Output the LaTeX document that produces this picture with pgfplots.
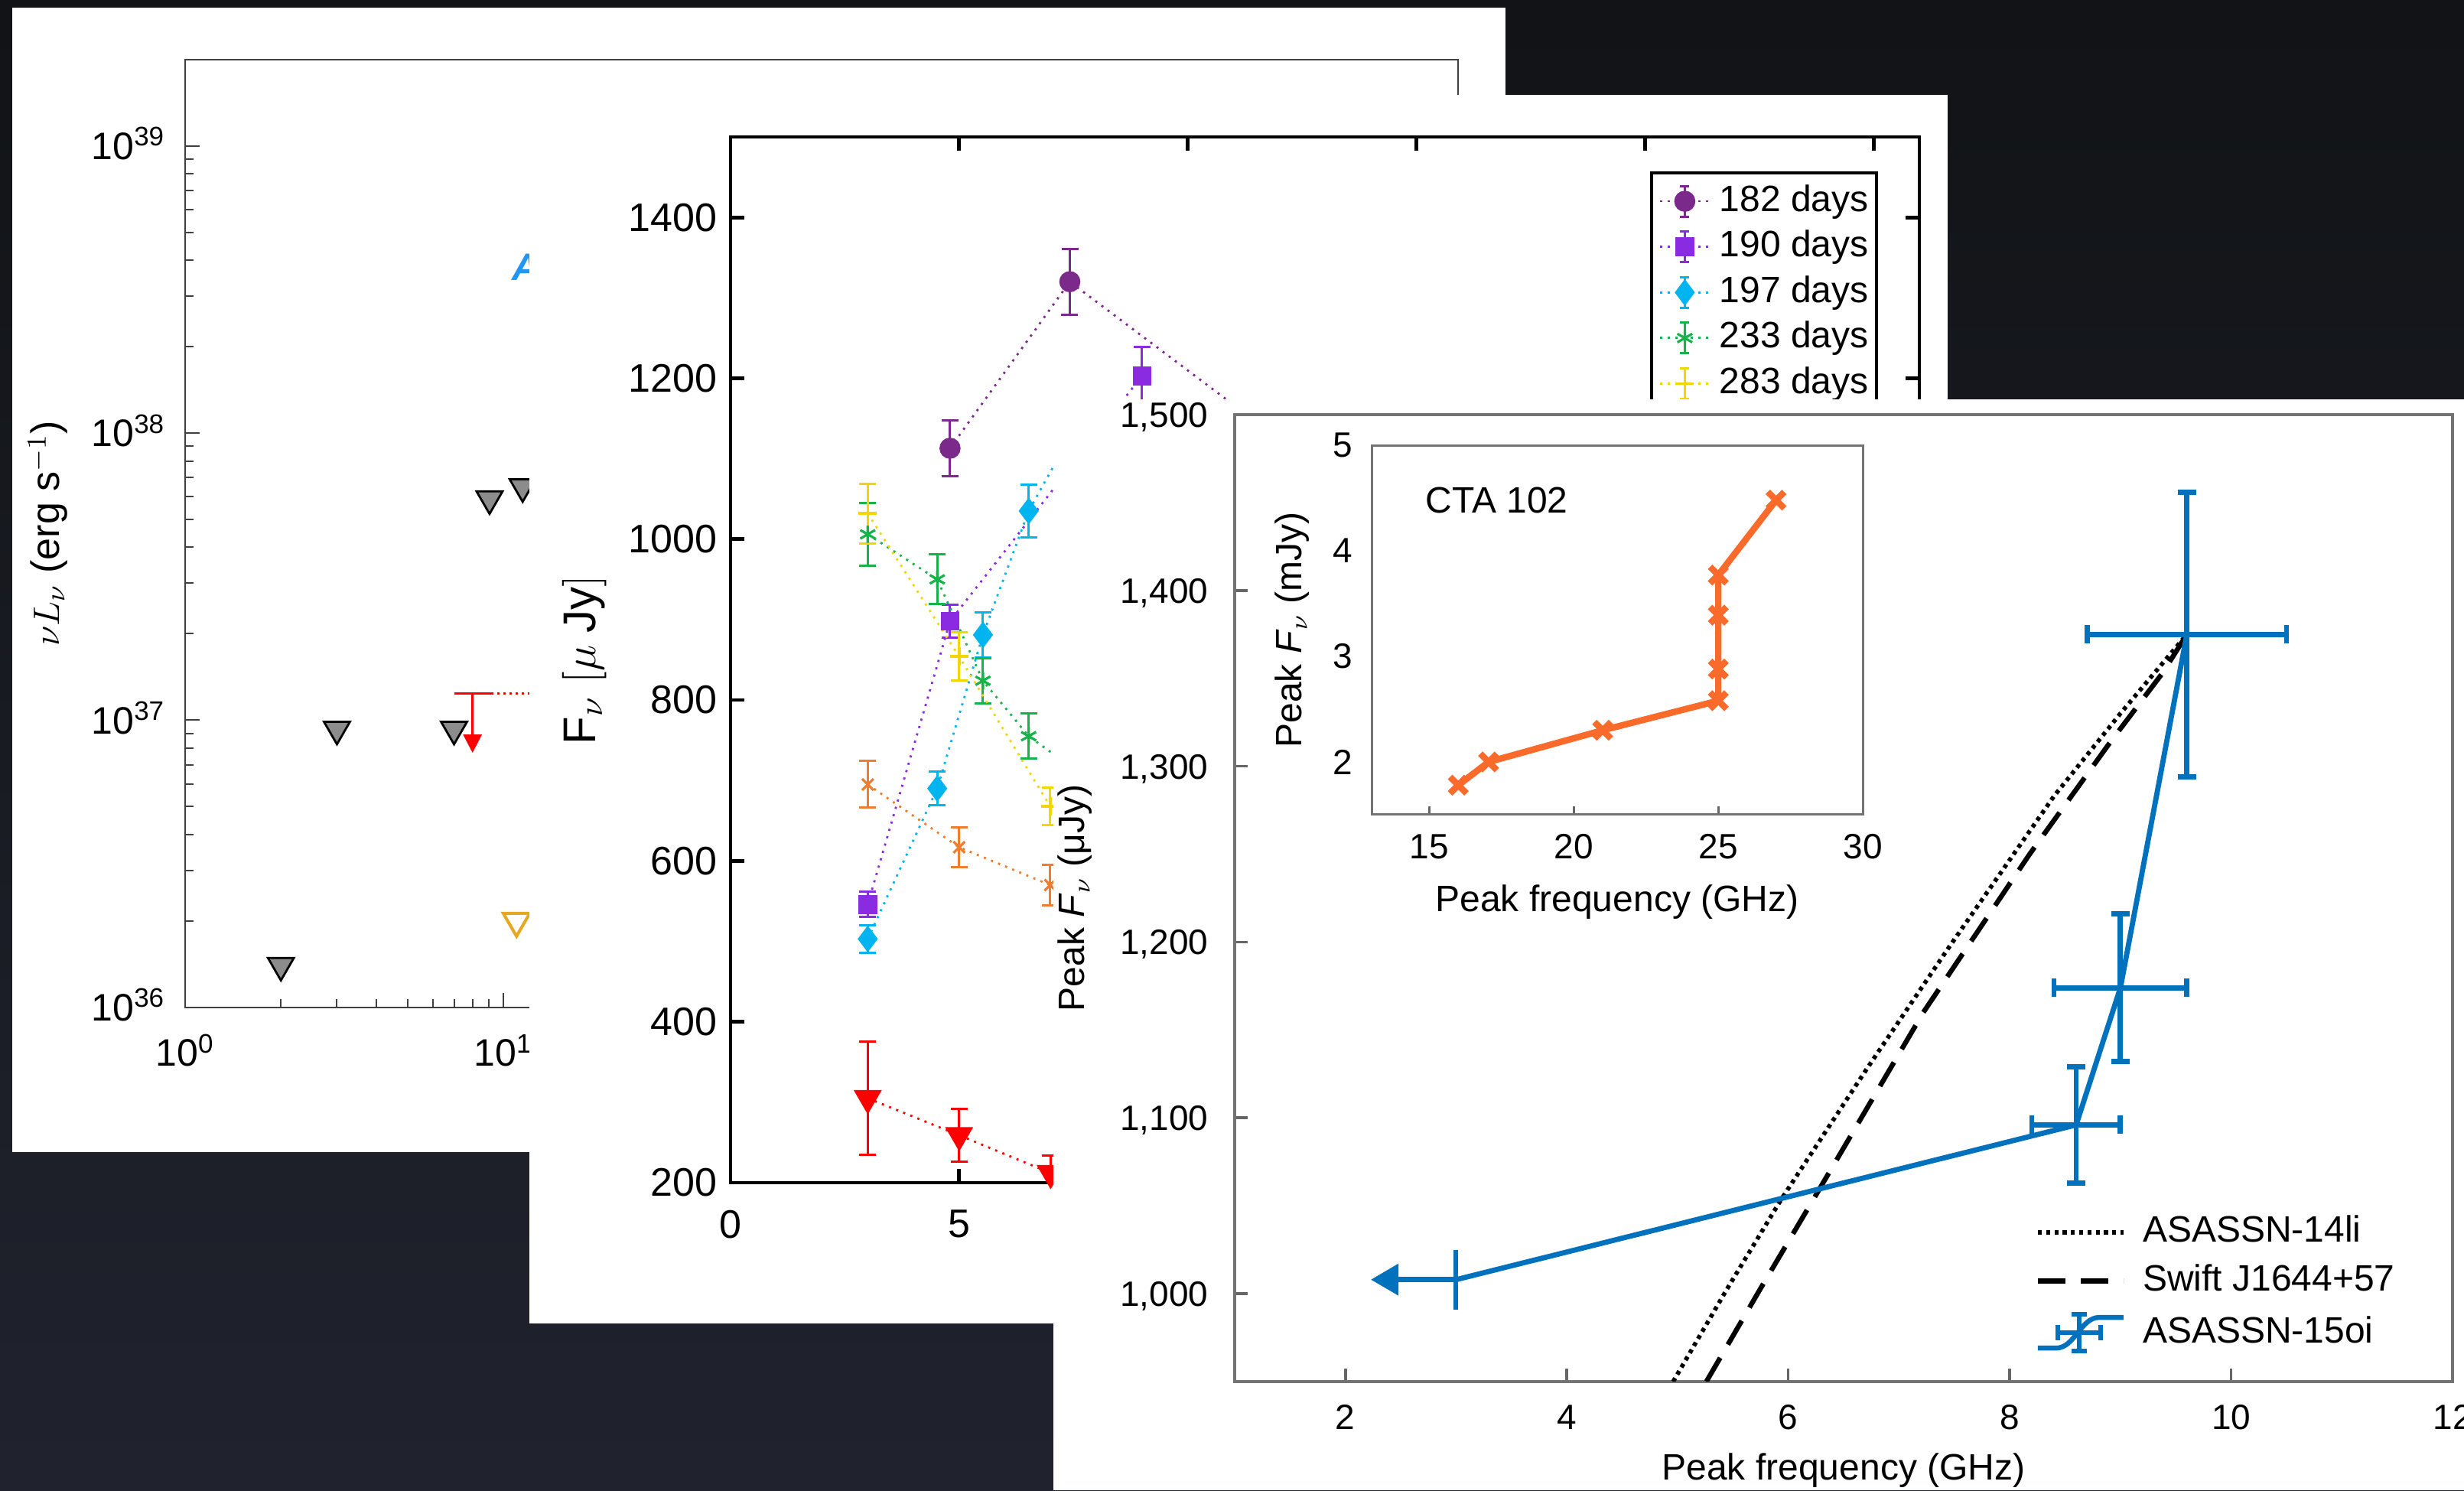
\documentclass[border=0pt]{standalone}
\usepackage{fontspec}
\setmainfont{Liberation Sans}
\usepackage{pgfplots}
\pgfplotsset{compat=1.18}
\usetikzlibrary{arrows.meta}
\newcommand{\fs}[1]{\fontsize{#1}{#1}\selectfont}
\definecolor{bgtop}{HTML}{111316}
\definecolor{bgbot}{HTML}{20232E}
\definecolor{c182}{HTML}{7B2A8C}
\definecolor{c190}{HTML}{8A2BE2}
\definecolor{c197}{HTML}{00B4F0}
\definecolor{c233}{HTML}{16B34A}
\definecolor{c283}{HTML}{F2D600}
\definecolor{corg}{HTML}{EE7D2F}
\definecolor{cred}{HTML}{FF0000}
\definecolor{mblue}{HTML}{0072BD}
\definecolor{cta}{HTML}{FA6A2A}
\definecolor{gold}{HTML}{E5A823}
\definecolor{ablue}{HTML}{2196F3}
\begin{document}
\begin{tikzpicture}[x=1pt,y=1pt]
\path[use as bounding box] (0,0) rectangle (805.25,487);
\shade[top color=bgtop, bottom color=bgbot] (0,0) rectangle (805.25,487);

%================ Panel 1 ================
\fill[white] (4,110.5) rectangle (492,484.5);
\begin{axis}[
  at={(60.5pt,157.75pt)}, anchor=south west, scale only axis,
  width=416pt, height=309.75pt,
  xmode=log, ymode=log, xmin=1, xmax=1e4, ymin=1e36, ymax=2e39,
  axis line style={draw=black!75, line width=0.5pt},
  tick align=inside, tick pos=left,
  major tick length=4.75pt, minor tick length=2.75pt,
  tick style={black!75, line width=0.5pt},
  xtick={1,10,100,1000,10000},
  xticklabels={10\textsuperscript{0},10\textsuperscript{1},10\textsuperscript{2},10\textsuperscript{3},10\textsuperscript{4}},
  ytick={1e36,1e37,1e38,1e39},
  yticklabels={10\textsuperscript{36},10\textsuperscript{37},10\textsuperscript{38},10\textsuperscript{39}},
  ticklabel style={font=\fs{12.5}},
  yticklabel style={anchor=base east, inner sep=0pt, xshift=-6.25pt, yshift=-4.4pt},
  xticklabel style={anchor=base, inner sep=0pt, yshift=-19.25pt},
  ylabel={$\nu L_\nu$ (erg s$^{-1}$)},
  ylabel style={font=\fs{13}, at={(axis description cs:-0.108,0.5)}, anchor=center},
]
\addplot[only marks, mark=triangle*, mark size=4.9pt,
  mark options={rotate=180, fill=gray!90, draw=black, line width=0.7pt}]
  coordinates {(2,1.4e36) (3,9.3e36) (7,9.3e36) (9.05,5.9e37) (11.5,6.5e37)};
\addplot[cred, line width=0.9pt] coordinates {(7.0,1.24e37) (9.15,1.24e37)};
\addplot[cred, line width=0.8pt, dash pattern=on 0.8pt off 1.2pt] coordinates {(9.15,1.24e37) (40,1.24e37)};
\addplot[cred, line width=0.8pt, -{Triangle[length=6pt,width=6pt]}] coordinates {(8,1.24e37) (8,7.7e36)};
\addplot[only marks, mark=triangle, mark size=5pt,
  mark options={rotate=180, draw=gold, line width=1pt}] coordinates {(11,2.0e36)};
\node[anchor=west, inner sep=0pt, text=ablue, font=\fs{12.5}\bfseries\itshape] at (axis cs:10.6,3.8e38) {ASASSN-15oi};
\end{axis}

%================ Panel 2 ================
\fill[white] (173,54.5) rectangle (636.5,456);
\begin{axis}[
  at={(238.75pt,100.5pt)}, anchor=south west, scale only axis,
  width=388.5pt, height=341.75pt,
  xmin=0, xmax=26, ymin=200, ymax=1500,
  xtick={0,5,10,15,20,25}, ytick={200,400,...,1400},
  tick align=inside, major tick length=4.5pt,
  axis line style={line width=1.2pt},
  tick style={black, line width=1.2pt},
  /pgf/number format/1000 sep={}, /pgf/number format/assume math mode=true,
  ticklabel style={font=\fs{13}},
  yticklabel style={inner sep=0pt, xshift=-4.25pt},
  xticklabel style={inner sep=0pt, yshift=-8.75pt},
  ylabel={F$_\nu$ $[\mu$ Jy$]$},
  ylabel style={font=\fs{15}, at={(axis description cs:-0.1229,0.5)}, anchor=center},
  legend cell align=left,
  legend style={at={(axis description cs:0.7735,0.967)}, anchor=north west,
    draw=black, line width=1pt, inner xsep=2.5pt, inner ysep=3.5pt,
    font=\fs{12}, row sep=3.4pt, column sep=3pt,
    nodes={inner sep=0pt, text height=9pt, text depth=2.5pt}},
  legend image code/.code={
    \draw[#1, mark=none] (0pt,0pt) -- (16pt,0pt);
    \draw[#1, solid, mark=none, line width=0.75pt] (8pt,-5pt) -- (8pt,5pt) (6.5pt,-5pt) -- (9.5pt,-5pt) (6.5pt,5pt) -- (9.5pt,5pt);
    \draw[#1, only marks] plot coordinates {(8pt,0pt)};
  },
  every axis plot/.append style={line width=0.7pt, dash pattern=on 0.7pt off 1.8pt},
  error bars/error bar style={solid, line width=0.75pt},
  error bars/error mark options={rotate=90, solid, mark size=2.75pt, line width=0.75pt},
]
\addplot[c182, mark=*, mark size=3.1pt, mark options={solid},
  error bars/.cd, y dir=both, y explicit]
  coordinates {(4.8,1113) +- (0,35) (7.42,1320) +- (0,41) (12.5,1103) +- (0,40)};
\addlegendentry{182 days}
\addplot[c190, mark=square*, mark size=2.75pt, mark options={solid},
  error bars/.cd, y dir=both, y explicit]
  coordinates {(3.0,546) +- (0,16) (4.8,898) +- (0,20) (9.0,1203) +- (0,36)};
\addlegendentry{190 days}
\addplot[c197, mark=diamond*, mark size=3.8pt, mark options={solid},
  error bars/.cd, y dir=both, y explicit]
  coordinates {(3.0,503) +- (0,17) (4.52,690) +- (0,21) (5.52,881) +- (0,28) (6.52,1035) +- (0,33) (7.45,1130) +- (0,30)};
\addlegendentry{197 days}
\addplot[c233, mark=asterisk, mark size=2.8pt, mark options={solid, line width=0.8pt},
  error bars/.cd, y dir=both, y explicit]
  coordinates {(3.0,1006) +- (0,39) (4.52,950) +- (0,31) (5.52,824) +- (0,28) (6.52,755) +- (0,28) (7.45,717) +- (0,25)};
\addlegendentry{233 days}
\addplot[c283, mark=+, mark size=3pt, mark options={solid, line width=0.9pt},
  error bars/.cd, y dir=both, y explicit]
  coordinates {(3.0,1032) +- (0,37) (5.0,854) +- (0,30) (6.99,668) +- (0,23)};
\addlegendentry{283 days}
\addplot[corg, mark=x, mark size=2.6pt, mark options={solid, line width=0.8pt},
  error bars/.cd, y dir=both, y explicit]
  coordinates {(3.0,695) +- (0,29) (5.0,617) +- (0,25) (6.99,570) +- (0,25)};
\addlegendentry{}
\addplot[cred, mark=triangle*, mark size=4.6pt, mark options={solid, rotate=180},
  error bars/.cd, y dir=both, y explicit]
  coordinates {(3.0,305) +- (0,70) (5.0,259) +- (0,33) (7.0,212) +- (0,22)};
\addlegendentry{}
\end{axis}

%================ Panel 3 ================
\fill[white] (344.25,0) rectangle (805.25,356.5);
\begin{axis}[
  at={(403.5pt,35.5pt)}, anchor=south west, scale only axis,
  width=398pt, height=316pt,
  xmin=1, xmax=12, ymin=950, ymax=1500,
  xtick={2,4,...,12}, ytick={1000,1100,...,1500},
  tick align=inside, tick pos=left, major tick length=4.25pt,
  axis line style={draw=black!55, line width=0.9pt},
  tick style={black!60, line width=0.9pt},
  /pgf/number format/1000 sep={,}, /pgf/number format/assume math mode=true,
  ticklabel style={font=\fs{11.5}},
  yticklabel style={anchor=base east, inner sep=0pt, xshift=-8.5pt, yshift=-4.1pt},
  xticklabel style={inner sep=0pt, yshift=-7.5pt},
  xlabel={Peak frequency (GHz)},
  xlabel style={font=\fs{12}, at={(axis description cs:0.5,-0.0918)}, anchor=center},
  ylabel={Peak \textit{F}$_\nu$ (μJy)},
  ylabel style={font=\fs{12}, at={(axis description cs:-0.1313,0.5)}, anchor=center},
  legend cell align=left,
  legend style={at={(axis description cs:0.657,0.1733)}, anchor=north west,
    draw=none, fill=none, inner sep=0pt, font=\fs{12}, row sep=4.4pt, column sep=5.5pt,
    nodes={inner sep=0pt, text height=9pt, text depth=2.5pt}},
  legend image code/.code={\draw[#1] (0pt,0pt) -- (28pt,0pt);},
]
\addplot[black, line width=1.4pt, dash pattern=on 1.3pt off 1.4pt]
  coordinates {(4.96,950) (5.45,1003) (5.94,1054) (6.7,1127) (7.44,1196) (8.4,1283) (9.0,1330) (9.6,1375)};
\addlegendentry{ASASSN-14li}
\addplot[black, line width=1.6pt, dash pattern=on 9pt off 5pt]
  coordinates {(5.26,950) (5.75,1003) (6.23,1054) (7.22,1160) (8.18,1250) (8.9,1313) (9.38,1353) (9.6,1375)};
\addlegendentry{Swift J1644+57}
\addplot[mblue, line width=1.7pt,
  legend image code/.code={
    \draw[mblue, line width=1.6pt] (0pt,-5pt) -- (6pt,-5pt) .. controls (12pt,-5pt) and (14pt,5pt) .. (20pt,5pt) -- (28pt,5pt);
    \draw[mblue, line width=1.6pt] (13.5pt,-6pt) -- (13.5pt,6pt) (6.5pt,0pt) -- (20.5pt,0pt)
      (11pt,6pt) -- (16pt,6pt) (11pt,-6pt) -- (16pt,-6pt) (6.5pt,-2.5pt) -- (6.5pt,2.5pt) (20.5pt,-2.5pt) -- (20.5pt,2.5pt);
  },
  error bars/.cd, x dir=both, x explicit, y dir=both, y explicit,
  error bar style={line width=1.7pt},
  error mark options={rotate=90, mark size=3pt, line width=1.7pt}]
  coordinates {(8.6,1096) +- (0.4,33) (9.0,1174) +- (0.6,42) (9.6,1375) +- (0.9,81)};
\addlegendentry{ASASSN-15oi}
\addplot[mblue, line width=1.7pt, forget plot] coordinates {(3.0,1008) (8.6,1096)};
\addplot[mblue, line width=1.5pt, forget plot] coordinates {(3.0,991) (3.0,1025)};
\addplot[mblue, line width=1.7pt, forget plot, -{Triangle[length=9pt,width=10pt]}] coordinates {(3.0,1008) (2.23,1008)};
\end{axis}

%================ Inset CTA 102 ================
\begin{axis}[
  at={(448.25pt,220.75pt)}, anchor=south west, scale only axis,
  width=160.5pt, height=120.75pt,
  xmin=13, xmax=30, ymin=1.5, ymax=5,
  xtick={15,20,25,30}, ytick={2,3,4,5},
  tick align=inside, tick pos=left, major tick length=2.75pt,
  axis line style={draw=black!55, line width=0.75pt},
  tick style={black!60, line width=0.75pt},
  ytick style={draw=none},
  /pgf/number format/assume math mode=true,
  ticklabel style={font=\fs{11.5}},
  yticklabel style={inner sep=0pt, xshift=-6pt},
  xticklabel style={inner sep=0pt, yshift=-6.25pt},
  xlabel={Peak frequency (GHz)},
  xlabel style={font=\fs{12}, at={(axis description cs:0.5,-0.236)}, anchor=center},
  ylabel={Peak \textit{F}$_\nu$ (mJy)},
  ylabel style={font=\fs{12}, at={(axis description cs:-0.162,0.5)}, anchor=center},
]
\addplot[cta, line width=2.1pt, mark=x, mark size=3.8pt, mark options={line width=2.1pt}]
  coordinates {(16,1.78) (17.05,2.0) (21,2.3) (25,2.58) (25,2.88) (25,3.39) (25,3.77) (27,4.48)};
\node[anchor=west, inner sep=0pt, font=\fs{12}] at (axis cs:14.85,4.48) {CTA 102};
\end{axis}
\end{tikzpicture}
\end{document}
